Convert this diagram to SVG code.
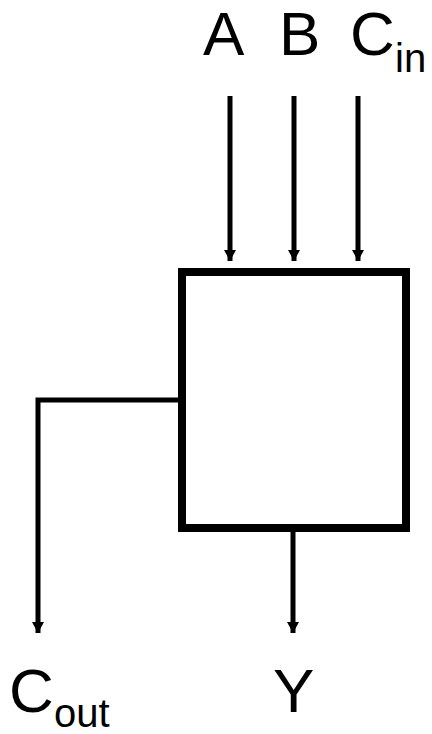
<svg xmlns="http://www.w3.org/2000/svg" width="432" height="734" viewBox="0 0 432 734">
<style>
.t{font-family:"Liberation Sans",Arial,sans-serif;fill:#000}
.big{font-size:62px}
.sub{font-size:40px}
.w{stroke:#000;stroke-width:5;fill:none}
</style>
<defs>
<marker id="ah" markerUnits="userSpaceOnUse" markerWidth="14" markerHeight="14" viewBox="0 0 14 14" refX="13" refY="7" orient="auto">
<path d="M2,1 L13,7 L2,13 Z" fill="#000"/>
</marker>
</defs>
<rect width="432" height="734" fill="#fff"/>
<g id="connectors">
<path class="w" d="M230,96 V261" marker-end="url(#ah)"/>
<path class="w" d="M294,96 V261" marker-end="url(#ah)"/>
<path class="w" d="M358,96 V261" marker-end="url(#ah)"/>
<path class="w" d="M178,400 H38 V633" marker-end="url(#ah)"/>
<path class="w" d="M293,532 V633" marker-end="url(#ah)"/>
</g>
<g id="adder">
<rect x="182" y="272" width="224" height="256" fill="none" stroke="#000" stroke-width="8"/>
</g>
<g id="inA"><text class="t big" x="203" y="55">A</text></g>
<g id="inB"><text class="t big" x="279" y="55">B</text></g>
<g id="inCin"><text class="t big" x="350" y="55">C</text><text class="t sub" x="395" y="72">in</text></g>
<g id="outCout"><text class="t big" x="9" y="712">C</text><text class="t sub" x="54" y="727">out</text></g>
<g id="outY"><text class="t big" x="273" y="712">Y</text></g>
</svg>
